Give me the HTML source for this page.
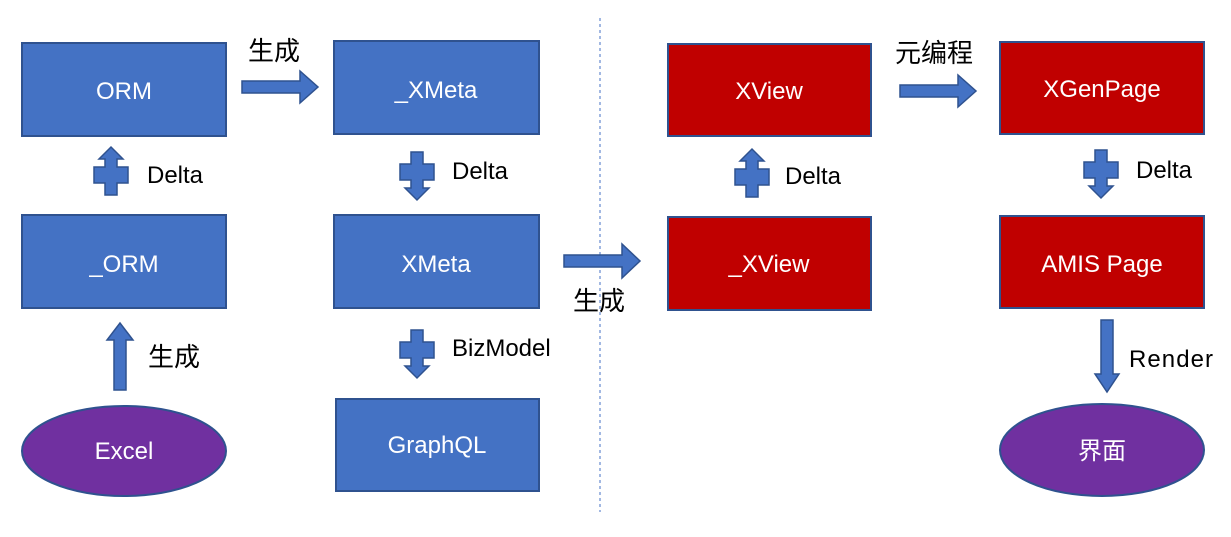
<!DOCTYPE html>
<html><head><meta charset="utf-8"><style>
body{margin:0;background:#fff;}
text{font-family:"Liberation Sans","Noto Sans CJK SC",sans-serif;}
</style></head><body>
<svg width="1231" height="532" viewBox="0 0 1231 532" xmlns="http://www.w3.org/2000/svg">
<defs>
<polygon id="pd" points="-6,0 6,0 6,12 17,12 17,28 6,28 6,36 12,36 0,48 -12,36 -6,36 -6,28 -17,28 -17,12 -6,12" fill="#4472C4" stroke="#2F528F" stroke-width="1.5"/>
</defs>
<g stroke="#2F528F" stroke-width="2">
<rect x="22" y="43" width="204" height="93" fill="#4472C4"/>
<rect x="22" y="215" width="204" height="93" fill="#4472C4"/>
<ellipse cx="124" cy="451" rx="102" ry="45" fill="#7030A0"/>
<rect x="334" y="41" width="205" height="93" fill="#4472C4"/>
<rect x="334" y="215" width="205" height="93" fill="#4472C4"/>
<rect x="336" y="399" width="203" height="92" fill="#4472C4"/>
<rect x="668" y="44" width="203" height="92" fill="#C00000"/>
<rect x="668" y="217" width="203" height="93" fill="#C00000"/>
<rect x="1000" y="42" width="204" height="92" fill="#C00000"/>
<rect x="1000" y="216" width="204" height="92" fill="#C00000"/>
<ellipse cx="1102" cy="450" rx="102" ry="46" fill="#7030A0"/>
</g>
<line x1="600" y1="18" x2="600" y2="512" stroke="#4472C4" stroke-width="1" stroke-dasharray="3,3"/>
<g fill="#4472C4" stroke="#2F528F" stroke-width="1.5">
<polygon points="242,81 300,81 300,71 318,87 300,103 300,93 242,93"/>
<polygon points="564,255 622,255 622,244 640,261 622,278 622,267 564,267"/>
<polygon points="900,85 958,85 958,75 976,91 958,107 958,97 900,97"/>
<polygon points="114,390 126,390 126,340 133,340 120,323 107,340 114,340"/>
<polygon points="1101,320 1113,320 1113,374 1119,374 1107,392 1095,374 1101,374"/>
</g>
<use href="#pd" transform="translate(111,195) scale(1,-1)"/>
<use href="#pd" transform="translate(417,152)"/>
<use href="#pd" transform="translate(417,330)"/>
<use href="#pd" transform="translate(752,197) scale(1,-1)"/>
<use href="#pd" transform="translate(1101,150)"/>
<g fill="#fff" font-size="24" text-anchor="middle">
<text x="124" y="99">ORM</text>
<text x="124" y="272">_ORM</text>
<text x="124" y="459">Excel</text>
<text x="436" y="98">_XMeta</text>
<text x="436" y="272">XMeta</text>
<text x="437" y="453">GraphQL</text>
<text x="769" y="99">XView</text>
<text x="769" y="272">_XView</text>
<text x="1102" y="97">XGenPage</text>
<text x="1102" y="272">AMIS Page</text>
<text x="1102" y="459">界面</text>
</g>
<g fill="#000" font-size="24">
<text x="147" y="183">Delta</text>
<text x="452" y="179">Delta</text>
<text x="452" y="356">BizModel</text>
<text x="785" y="184">Delta</text>
<text x="1136" y="178">Delta</text>
<text x="1129" y="367" textLength="84">Render</text>
<text x="248" y="60" font-size="26">生成</text>
<text x="573" y="310" font-size="26">生成</text>
<text x="148" y="366" font-size="26">生成</text>
<text x="895" y="62" font-size="26">元编程</text>
</g>
</svg>
</body></html>
